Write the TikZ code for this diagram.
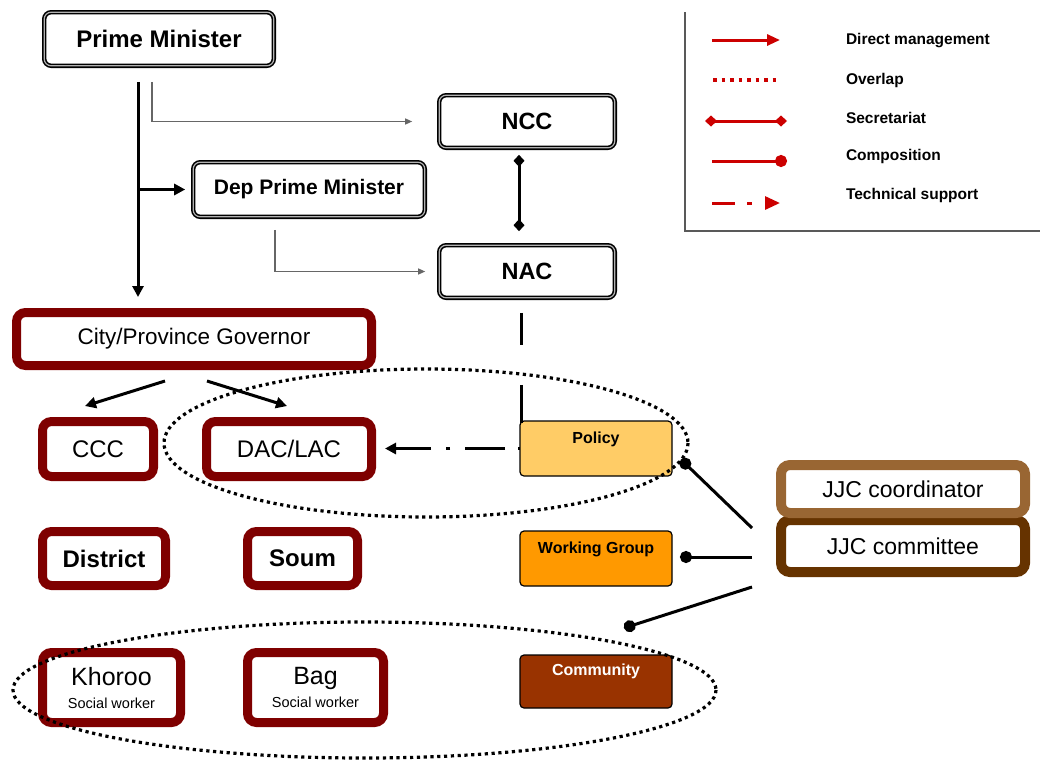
\documentclass[tikz,border=0pt]{standalone}
\usepackage{fontspec}
\setmainfont{Liberation Sans}
\usetikzlibrary{arrows.meta,calc}
\definecolor{govred}{HTML}{7F0000}
\definecolor{legred}{HTML}{CC0000}
\definecolor{policyfill}{HTML}{FFCC66}
\definecolor{wgfill}{HTML}{FF9900}
\definecolor{commfill}{HTML}{993300}
\definecolor{coordbrown}{HTML}{996633}
\definecolor{commbrown}{HTML}{663300}
\newcommand{\fsz}[1]{\fontsize{#1}{#1}\selectfont}
\begin{document}
\begin{tikzpicture}[x=1pt,y=-1pt,
  every node/.style={outer sep=0pt},
  blackbox/.style={draw=black, line width=1.6pt, double=gray!60, double distance=1.2pt,
    rounded corners=7pt, inner sep=0pt, fill=white, font=\bfseries},
  redbox/.style={draw=govred, line width=9pt, rounded corners=9pt, inner sep=0pt,
    fill=white, font=\fsz{24}},
  colbox/.style={draw=black, line width=1.2pt, rounded corners=4pt, inner sep=0pt,
    minimum width=152pt, minimum height=55pt},
  jjcbox/.style={line width=10pt, rounded corners=9pt, inner sep=0pt, fill=white,
    minimum width=244pt, font=\fsz{23}},
  boxlabel/.style={font=\bfseries\fsz{16}, inner sep=0pt},
  direct/.style={line width=3pt, -{Triangle[length=11pt,width=11pt]}},
  thinarrow/.style={draw=gray!80!black, line width=1.2pt, -{Triangle[length=7pt,width=6pt]}},
  overlap/.style={line width=3.2pt, dash pattern=on 3.2pt off 3.6pt},
  compose/.style={line width=3pt, -{Circle[length=12pt]}},
  secret/.style={line width=3pt, {Diamond[length=12pt,width=11pt]}-{Diamond[length=12pt,width=11pt]}},
  legtext/.style={anchor=west, font=\bfseries\fsz{15.5}, inner sep=0pt}
]
\useasboundingbox (0,0) rectangle (1040,761);

% ---- national level
\node[blackbox, minimum width=229.6pt, minimum height=53.6pt, font=\bfseries\fsz{24}] (PM) at (159,39) {Prime Minister};
\node[blackbox, minimum width=175.6pt, minimum height=52.6pt, font=\bfseries\fsz{23.5}] (NCC) at (527,121.5) {NCC};
\node[blackbox, minimum width=231.6pt, minimum height=54.6pt, font=\bfseries\fsz{21}] (DPM) at (309,189.5) {Dep Prime Minister};
\node[blackbox, minimum width=175.6pt, minimum height=52.6pt, font=\bfseries\fsz{23.5}] (NAC) at (527,271.5) {NAC};

% ---- local government
\node[redbox, minimum width=355pt, minimum height=53pt, font=\fsz{22.5}] (City) at (194,339) {City/Province Governor};
\node[redbox, minimum width=111pt, minimum height=55pt] (CCC) at (98,449) {CCC};
\node[redbox, minimum width=165pt, minimum height=55pt] (DAC) at (289,449) {DAC/LAC};
\node[redbox, minimum width=123pt, minimum height=54pt, font=\bfseries\fsz{24}] (District) at (104,558.5) {District};
\node[redbox, minimum width=110pt, minimum height=54pt, font=\bfseries\fsz{24}] (Soum) at (302.5,558.5) {Soum};
\node[redbox, minimum width=138pt, minimum height=70pt, align=center] (Khoroo) at (111.5,687.5)
  {\fsz{25}Khoroo\\[-1pt]\fsz{14.5}Social worker};
\node[redbox, minimum width=136pt, minimum height=70pt, align=center] (Bag) at (315.5,687.5)
  {\fsz{25}Bag\\[-1pt]\fsz{14.5}Social worker};

% ---- working bodies
\node[colbox, fill=policyfill] (Pol) at (596,448.5) {};
\node[boxlabel] (PolT) at ($(Pol.north)+(0,18)$) {Policy};
\node[colbox, fill=wgfill] (WG) at (596,558.5) {};
\node[boxlabel] (WGT) at ($(WG.north)+(0,18)$) {Working Group};
\node[colbox, fill=commfill, minimum height=53pt] (Comm) at (596,681.5) {};
\node[boxlabel, text=white] (CommT) at ($(Comm.north)+(0,16)$) {Community};

% ---- JJC
\node[jjcbox, draw=commbrown, minimum height=52pt] (JJCc) at (903,546) {JJC committee};
\node[jjcbox, draw=coordbrown, minimum height=48pt] (JJCo) at (903,489) {JJC coordinator};

% ---- overlap ellipses
\draw[overlap] (426,443) ellipse [x radius=262, y radius=74];
\draw[overlap] (364.5,690) ellipse [x radius=351.5, y radius=68];

% ---- connectors
\coordinate (pmx) at (138,0);
\coordinate (nccx) at (152,0);
\coordinate (dpmx) at (275,0);
\draw[direct, shorten <=16pt, shorten >=15.5pt] (PM.south -| pmx) -- (City.north -| pmx);
\draw[direct, shorten >=8pt] (DPM.west -| pmx) -- (DPM.west);
\draw[thinarrow, shorten >=27pt] ($(PM.south -| nccx)+(0,16)$) |- (NCC.west);
\draw[thinarrow, shorten >=14pt] ($(DPM.south -| dpmx)+(0,13)$) |- (NAC.west);
\draw[secret, shorten <=7pt, shorten >=14pt] ($(NCC.south)+(-8,0)$) -- ($(NAC.north)+(-8,0)$);
\draw[line width=3pt, dash pattern=on 32pt off 40pt on 60pt]
  ($(NAC.south)+(-6,15)$) -- ($(Pol.north)+(-75,2)$);
\draw[line width=3pt, dash pattern=on 2pt off 13pt on 40pt off 15pt on 4pt off 15pt on 60pt,
  -{Triangle[length=11pt,width=11pt]}, shorten >=13.5pt] (Pol.west) -- (Pol.west -| DAC.east);
\draw[direct] ($(City.south)+(-29,15.5)$) -- ($(CCC.north)+(-13,-15.5)$);
\draw[direct] ($(City.south)+(13,15.5)$) -- ($(DAC.north)+(-2,-15.5)$);
\draw[compose] ($(JJCc.west)+(-29,-18)$) -- ($(Pol.east)+(9,11)$);
\draw[compose] ($(JJCc.west)+(-29,11)$) -- ($(WG.east)+(8,-1.5)$);
\draw[compose] ($(JJCc.west)+(-29,41)$) -- ($(Comm.north)+(28,-27)$);

% ---- legend
\draw[gray!70!black, line width=1.5pt] (685,12) -- (685,231) -- (1040,231);
\draw[legred, line width=3pt, -{Triangle[length=13pt,width=11pt]}] (712,40) -- (780,40);
\draw[legred, line width=3.5pt, dash pattern=on 3.5pt off 5pt] (713,80) -- (778,80);
\draw[legred, secret] (705,121) -- (787,121);
\draw[legred, compose] (712,161) -- (787,161);
\draw[legred, line width=3pt, dash pattern=on 23pt off 12pt on 5pt off 40pt,
  -{Triangle[length=15pt,width=13pt]}] (712,203) -- (780,203);
\node[legtext] (L1) at (846,41) {Direct management};
\node[legtext] (L2) at (846,80) {Overlap};
\node[legtext] (L3) at (846,118) {Secretariat};
\node[legtext] (L4) at (846,156) {Composition};
\node[legtext] (L5) at (846,195) {Technical support};
\end{tikzpicture}
\end{document}
